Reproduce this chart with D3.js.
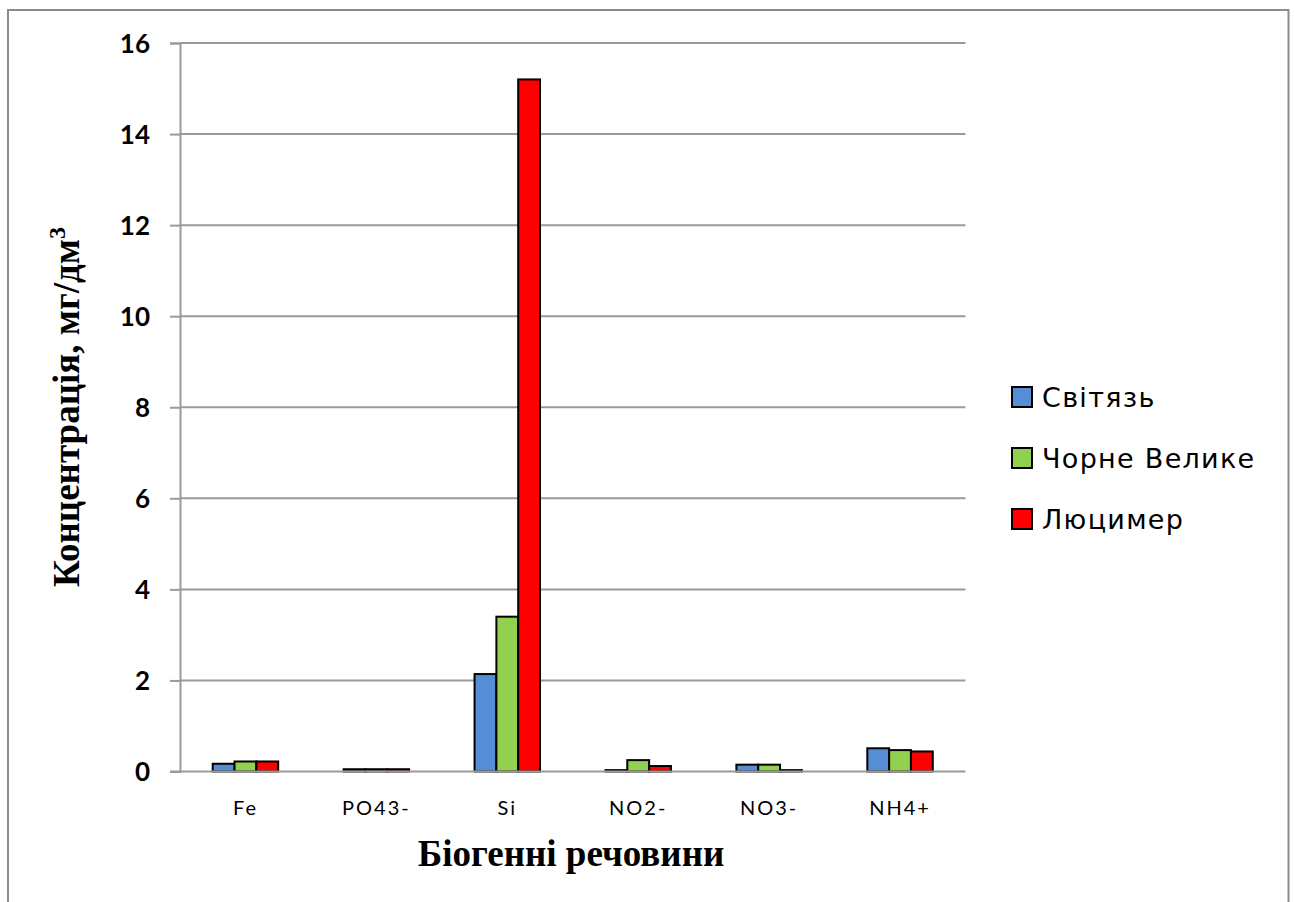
<!DOCTYPE html>
<html>
<head>
<meta charset="utf-8">
<script src="https://cdn.jsdelivr.net/npm/d3@7"></script>
<style>
  html, body { margin: 0; padding: 0; background: #fff; }
  svg { display: block; }
</style>
</head>
<body>
<svg id="chart" width="1295" height="902"></svg>
<script>
// Nutrient concentrations (mg/dm³) in three lakes
const categories = ["Fe", "PO43-", "Si", "NO2-", "NO3-", "NH4+"];
const seriesNames = ["Світязь", "Чорне Велике", "Люцимер"];
const svitiaz   = [0.17, 0.05, 2.14, 0.03, 0.15, 0.51];
const chorne    = [0.22, 0.05, 3.40, 0.25, 0.15, 0.47];
const liutsymer = [0.22, 0.05, 15.2, 0.12, 0.03, 0.44];
const yTicks = [0, 2, 4, 6, 8, 10, 12, 14, 16];
const colors = ["#558ED5", "#92D050", "#FF0000"];

const seriesValues = [svitiaz, chorne, liutsymer];

const svg = d3.select("#chart");

// Outer chart frame
svg.append("rect")
  .attr("x", 8).attr("y", 10)
  .attr("width", 1280.5).attr("height", 910)
  .attr("fill", "none")
  .attr("stroke", "#8c8c8c")
  .attr("stroke-width", 2);

const plot = { left: 180, right: 965.5, top: 43, bottom: 771.5 };

const x = d3.scaleBand()
  .domain(categories)
  .range([plot.left, plot.right])
  .paddingInner(0.5)
  .paddingOuter(0.25);

const xInner = d3.scaleBand()
  .domain(d3.range(seriesNames.length))
  .range([0, x.bandwidth()]);

const y = d3.scaleLinear()
  .domain([0, 16])
  .range([plot.bottom, plot.top]);

// Horizontal gridlines
svg.append("g")
  .selectAll("line")
  .data(yTicks.filter(t => t > 0))
  .join("line")
  .attr("x1", plot.left).attr("x2", plot.right)
  .attr("y1", d => y(d)).attr("y2", d => y(d))
  .attr("stroke", "#9a9a9a")
  .attr("stroke-width", 2);

// Y axis
const yAxis = svg.append("g")
  .attr("transform", `translate(${plot.left},0)`)
  .call(d3.axisLeft(y).tickValues(yTicks).tickSize(10).tickPadding(20).tickFormat(d3.format("d")));
yAxis.select(".domain").attr("stroke", "#9a9a9a").attr("stroke-width", 2);
yAxis.selectAll(".tick line").attr("stroke", "#9a9a9a").attr("stroke-width", 2);
yAxis.selectAll(".tick text")
  .attr("fill", "#000")
  .attr("dy", "0.36em")
  .style("font-family", "Lato, 'Open Sans', sans-serif")
  .style("font-weight", "bold")
  .style("font-size", "26px");

// Bars
const groups = svg.append("g")
  .selectAll("g")
  .data(categories)
  .join("g")
  .attr("transform", d => `translate(${x(d)},0)`);

groups.selectAll("rect")
  .data((c, i) => seriesValues.map((vals, s) => ({ s, v: vals[i] })))
  .join("rect")
  .attr("x", d => xInner(d.s))
  .attr("width", xInner.bandwidth())
  .attr("y", d => y(d.v))
  .attr("height", d => y(0) - y(d.v))
  .attr("fill", d => colors[d.s])
  .attr("stroke", "#000")
  .attr("stroke-width", 2);

// X axis baseline
const xAxis = svg.append("g")
  .attr("transform", `translate(0,${plot.bottom})`)
  .call(d3.axisBottom(x).tickSize(0).tickPadding(29));
xAxis.select(".domain")
  .attr("d", `M${plot.left - 10},0H${plot.right}`)
  .attr("stroke", "#9a9a9a").attr("stroke-width", 2);
xAxis.selectAll(".tick text")
  .attr("fill", "#000")
  .style("font-family", "Lato, 'Open Sans', sans-serif")
  .style("font-size", "20px")
  .style("letter-spacing", "2px");

// Axis titles
svg.append("text")
  .attr("x", 571).attr("y", 866)
  .attr("text-anchor", "middle")
  .style("font-family", "'Liberation Serif', 'Times New Roman', serif")
  .style("font-weight", "bold")
  .style("font-size", "37px")
  .text("Біогенні речовини");

const yTitle = svg.append("text")
  .attr("transform", "translate(79,407) rotate(-90)")
  .attr("text-anchor", "middle")
  .style("font-family", "'Liberation Serif', 'Times New Roman', serif")
  .style("font-weight", "bold")
  .style("font-size", "37px");
yTitle.append("tspan").text("Концентрація, мг/дм");
yTitle.append("tspan").attr("dy", -14).style("font-size", "24px").text("3");

// Legend
const legend = svg.append("g")
  .selectAll("g")
  .data(seriesNames)
  .join("g")
  .attr("transform", (d, i) => `translate(1012,${397 + i * 61})`);
legend.append("rect")
  .attr("x", 0).attr("y", -10)
  .attr("width", 20).attr("height", 20)
  .attr("fill", (d, i) => colors[i])
  .attr("stroke", "#000").attr("stroke-width", 2);
legend.append("text")
  .attr("x", 30).attr("y", 0)
  .attr("dy", "0.36em")
  .style("font-family", "'DejaVu Sans', Verdana, sans-serif")
  .style("font-size", "27px")
  .style("letter-spacing", "1.3px")
  .attr("fill", "#000")
  .text(d => d);
</script>
</body>
</html>
